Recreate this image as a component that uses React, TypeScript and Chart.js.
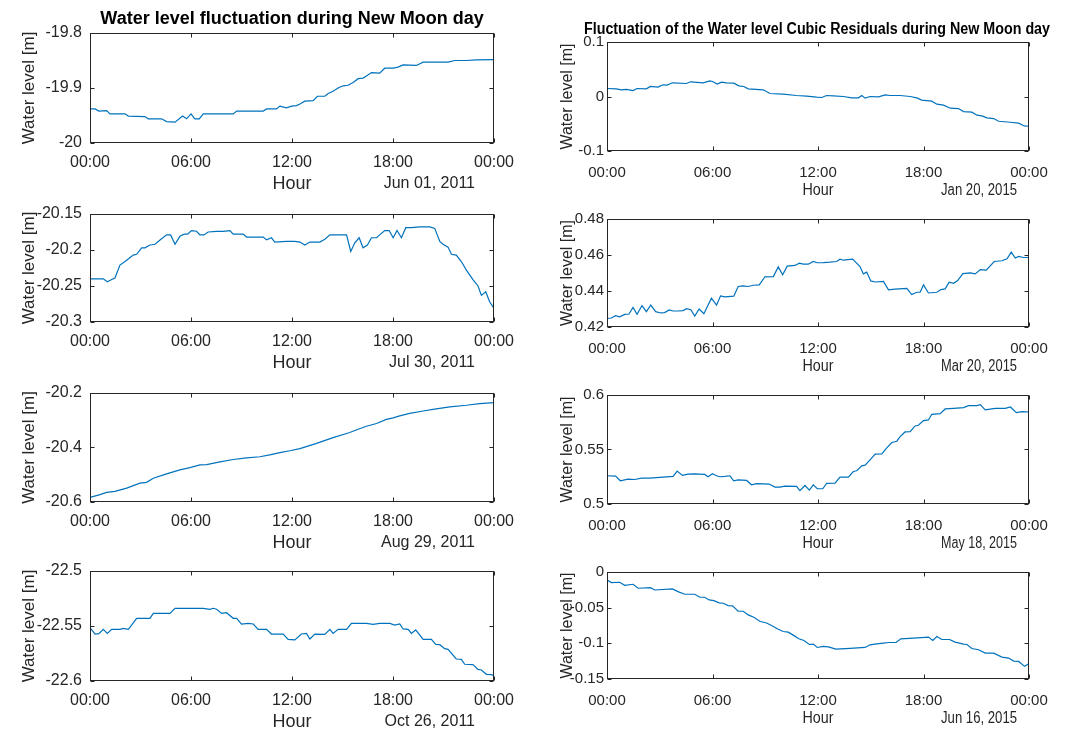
import React, { useEffect, useRef } from 'react';
import { Chart, registerables } from 'chart.js';

Chart.register(...registerables);

// ---------------- DATA ----------------
const hourTicks = [0, 6, 12, 18, 24];
const hourTickLabels = ['00:00', '06:00', '12:00', '18:00', '00:00'];

const titleLeft = 'Water level fluctuation during New Moon day';
const titleRight = 'Fluctuation of the Water level Cubic Residuals during New Moon day';
const yAxisTitle = 'Water level [m]';
const xAxisTitle = 'Hour';

// [hour, water level]
const jun01_2011: [number, number][] = [
  [0, -19.938], [0.3, -19.938], [0.53, -19.942], [0.99, -19.941], [1.19, -19.947], [2.08, -19.947],
  [2.28, -19.951], [3.26, -19.952], [3.46, -19.956], [4.25, -19.956], [4.55, -19.961], [5.05, -19.962],
  [5.5, -19.951], [5.74, -19.956], [6.0, -19.947], [6.23, -19.956], [6.49, -19.956], [6.73, -19.947],
  [8.51, -19.947], [8.71, -19.942], [10.29, -19.942], [10.49, -19.938], [11.08, -19.938], [11.28, -19.933],
  [11.67, -19.936], [11.97, -19.933], [12.27, -19.932], [12.47, -19.929], [12.76, -19.924], [13.26, -19.923],
  [13.51, -19.915], [13.95, -19.915], [14.15, -19.91], [14.44, -19.906], [14.74, -19.9], [15.04, -19.896],
  [15.33, -19.895], [15.63, -19.89], [15.93, -19.883], [16.22, -19.882], [16.42, -19.878], [16.72, -19.872],
  [17.21, -19.873], [17.51, -19.864], [18.01, -19.864], [18.3, -19.862], [18.6, -19.858], [19.39, -19.859],
  [19.79, -19.853], [20.38, -19.853], [21.27, -19.853], [21.67, -19.85], [22.36, -19.85], [22.95, -19.849],
  [24, -19.8485],
];

const jul30_2011: [number, number][] = [
  [0, -20.24], [0.79, -20.24], [1.03, -20.244], [1.29, -20.241], [1.48, -20.239], [1.78, -20.221],
  [2.08, -20.216], [2.57, -20.207], [2.77, -20.206], [3.07, -20.197], [3.26, -20.197], [3.56, -20.193],
  [3.86, -20.192], [4.16, -20.186], [4.55, -20.179], [4.79, -20.179], [5.05, -20.192], [5.34, -20.181],
  [5.6, -20.178], [5.8, -20.178], [6.03, -20.173], [6.33, -20.174], [6.53, -20.179], [6.77, -20.179],
  [7.02, -20.175], [7.52, -20.174], [7.91, -20.174], [8.31, -20.173], [8.51, -20.178], [9.1, -20.178],
  [9.3, -20.182], [10.29, -20.182], [10.49, -20.186], [10.78, -20.183], [10.98, -20.189], [11.67, -20.188],
  [12.17, -20.188], [12.47, -20.189], [12.76, -20.193], [13.06, -20.189], [13.65, -20.189], [13.95, -20.185],
  [14.25, -20.179], [15.24, -20.179], [15.49, -20.202], [15.73, -20.19], [15.99, -20.183], [16.22, -20.197],
  [16.48, -20.193], [16.72, -20.183], [17.02, -20.183], [17.21, -20.179], [17.51, -20.173], [17.77, -20.173],
  [18.01, -20.183], [18.24, -20.173], [18.5, -20.183], [18.76, -20.169], [19.09, -20.169], [19.59, -20.168],
  [20.18, -20.168], [20.48, -20.17], [20.78, -20.188], [20.97, -20.192], [21.27, -20.196], [21.47, -20.206],
  [21.76, -20.207], [22.06, -20.216], [22.36, -20.228], [22.75, -20.241], [23.05, -20.25], [23.25, -20.263],
  [23.51, -20.258], [23.74, -20.272], [24, -20.281],
];

const aug29_2011: [number, number][] = [
  [0, -20.583], [0.59, -20.573], [0.99, -20.565], [1.48, -20.561], [2.18, -20.549], [2.97, -20.531],
  [3.36, -20.528], [3.76, -20.513], [4.55, -20.497], [5.34, -20.482], [5.94, -20.474], [6.53, -20.464],
  [6.93, -20.463], [7.72, -20.453], [8.51, -20.444], [9.3, -20.438], [10.09, -20.434], [10.68, -20.427],
  [11.28, -20.419], [11.87, -20.412], [12.47, -20.404], [13.46, -20.385], [14.44, -20.364], [15.43, -20.345],
  [15.93, -20.333], [16.42, -20.322], [17.02, -20.312], [17.61, -20.297], [18.01, -20.291], [18.4, -20.284],
  [18.99, -20.275], [19.79, -20.266], [20.38, -20.26], [21.37, -20.251], [22.36, -20.245], [23.15, -20.239],
  [24, -20.235],
];

const oct26_2011: [number, number][] = [
  [0, -22.5515], [0.3, -22.5573], [0.53, -22.557], [0.79, -22.553], [1.03, -22.5567], [1.29, -22.553],
  [1.78, -22.553], [1.98, -22.5521], [2.28, -22.553], [2.77, -22.543], [3.56, -22.543], [3.76, -22.5385],
  [4.75, -22.5385], [5.05, -22.5339], [6.73, -22.5339], [7.12, -22.5348], [7.32, -22.5339], [7.52, -22.5348],
  [7.82, -22.5385], [8.11, -22.5379], [8.51, -22.543], [8.71, -22.543], [9.0, -22.5482], [9.4, -22.5476],
  [9.7, -22.5482], [9.99, -22.553], [10.49, -22.553], [10.78, -22.5573], [11.48, -22.5573], [11.77, -22.5621],
  [12.17, -22.5627], [12.56, -22.5573], [12.86, -22.5567], [13.06, -22.5618], [13.36, -22.5573], [13.95, -22.5576],
  [14.25, -22.553], [14.44, -22.5567], [14.74, -22.553], [15.24, -22.553], [15.53, -22.5476], [16.42, -22.5476],
  [16.82, -22.5485], [17.21, -22.5476], [17.81, -22.5476], [18.1, -22.5491], [18.4, -22.5482], [18.6, -22.5527],
  [18.9, -22.553], [19.09, -22.5567], [19.35, -22.5536], [19.79, -22.5621], [20.28, -22.5621], [20.54, -22.5667],
  [20.78, -22.567], [21.07, -22.5706], [21.27, -22.5712], [21.76, -22.58], [22.06, -22.5803], [22.26, -22.5848],
  [22.75, -22.5851], [23.05, -22.5894], [23.25, -22.59], [23.55, -22.5939], [23.84, -22.5942], [24, -22.5951],
];

const jan20_2015: [number, number][] = [
  [0, 0.0147], [0.53, 0.0141], [0.82, 0.0123], [1.1, 0.0129], [1.48, 0.011], [1.71, 0.0147], [2.24, 0.0141],
  [2.47, 0.0184], [2.9, 0.0172], [3.19, 0.0215], [3.42, 0.0208], [3.72, 0.0251], [4.52, 0.0239], [4.75, 0.027],
  [5.47, 0.0251], [5.85, 0.0288], [6.0, 0.0276], [6.27, 0.0227], [6.51, 0.0264], [6.8, 0.0251], [7.21, 0.0245],
  [7.5, 0.0196], [7.78, 0.0184], [8.03, 0.0141], [8.88, 0.0123], [9.27, 0.0055], [10.02, 0.0043], [10.78, 0.0018],
  [11.35, 0.0006], [11.92, -0.0012], [12.21, -0.0018], [12.49, 0.0018], [12.87, 0.0012], [13.44, 0],
  [13.92, -0.0025], [14.3, -0.0025], [14.49, 0.0018], [14.68, -0.0031], [14.96, 0], [15.44, -0.0006],
  [15.82, 0.0031], [16.1, 0.0018], [16.67, 0.0018], [17.24, 0], [17.62, -0.0025], [17.9, -0.0067],
  [18.47, -0.0086], [18.76, -0.0141], [19.14, -0.0159], [19.52, -0.0215], [19.99, -0.0221], [20.28, -0.0276],
  [20.75, -0.0288], [21.04, -0.0343], [21.32, -0.0356], [21.61, -0.0392], [21.99, -0.0405], [22.27, -0.0454],
  [22.94, -0.0472], [23.41, -0.049], [23.73, -0.054], [24, -0.0546],
];

const mar20_2015: [number, number][] = [
  [0, 0.4248], [0.25, 0.425], [0.49, 0.4263], [0.72, 0.4257], [1.01, 0.427], [1.25, 0.4272], [1.48, 0.4309],
  [1.71, 0.427], [1.99, 0.4319], [2.24, 0.4285], [2.49, 0.4322], [2.77, 0.4285], [3.04, 0.4278], [3.28, 0.428],
  [3.53, 0.4295], [3.76, 0.4289], [4.04, 0.4289], [4.33, 0.4291], [4.52, 0.4302], [4.77, 0.4296], [4.99, 0.4261],
  [5.24, 0.43], [5.51, 0.4274], [5.94, 0.436], [6.23, 0.4322], [6.46, 0.4373], [6.7, 0.4367], [7.21, 0.4371],
  [7.46, 0.4425], [7.75, 0.4428], [8.03, 0.4425], [8.32, 0.4432], [8.66, 0.4434], [8.98, 0.4479], [9.46, 0.448],
  [9.74, 0.4534], [9.99, 0.449], [10.25, 0.4538], [10.69, 0.4542], [10.94, 0.4555], [11.16, 0.4549],
  [11.45, 0.4549], [11.73, 0.4564], [11.96, 0.4557], [12.3, 0.4558], [12.68, 0.456], [13.06, 0.4564],
  [13.25, 0.4577], [13.44, 0.4571], [13.97, 0.4577], [14.39, 0.4536], [14.58, 0.4495], [14.77, 0.4505],
  [15.0, 0.4456], [15.25, 0.445], [15.72, 0.4453], [16.01, 0.4406], [16.39, 0.441], [17.05, 0.4415],
  [17.33, 0.438], [17.62, 0.4393], [17.81, 0.4393], [18.0, 0.4434], [18.28, 0.4389], [18.76, 0.4393],
  [18.99, 0.4408], [19.23, 0.4412], [19.46, 0.4449], [19.71, 0.4443], [19.94, 0.4458], [20.24, 0.4497],
  [20.66, 0.4501], [20.94, 0.4495], [21.23, 0.4519], [21.57, 0.4516], [22.02, 0.4564], [22.46, 0.4568],
  [22.75, 0.4579], [22.99, 0.4616], [23.22, 0.4583], [23.41, 0.4592], [23.69, 0.4586], [24, 0.4586],
];

const may18_2015: [number, number][] = [
  [0, 0.5259], [0.49, 0.5256], [0.76, 0.5213], [1.2, 0.5228], [1.58, 0.5225], [1.96, 0.5237], [2.43, 0.5237],
  [3.76, 0.5253], [3.99, 0.5302], [4.29, 0.5262], [4.61, 0.5274], [4.99, 0.5277], [5.56, 0.5271], [5.75, 0.525],
  [6.0, 0.5277], [6.23, 0.5259], [6.42, 0.525], [6.7, 0.5253], [6.99, 0.5259], [7.21, 0.5213], [7.46, 0.5222],
  [7.94, 0.5216], [8.22, 0.5176], [8.51, 0.5186], [9.23, 0.5183], [9.55, 0.5155], [9.83, 0.5155], [10.12, 0.5164],
  [10.78, 0.5161], [10.97, 0.5122], [11.26, 0.517], [11.51, 0.5128], [11.73, 0.5176], [11.96, 0.514],
  [12.27, 0.514], [12.49, 0.5189], [12.97, 0.5192], [13.25, 0.5247], [13.73, 0.5247], [14.01, 0.5298],
  [14.2, 0.5305], [14.49, 0.535], [14.68, 0.5356], [14.96, 0.5405], [15.25, 0.5457], [15.63, 0.546],
  [15.91, 0.5515], [16.2, 0.5564], [16.48, 0.5576], [16.67, 0.5619], [16.95, 0.5661], [17.24, 0.5664],
  [17.52, 0.5716], [17.71, 0.5722], [18.0, 0.5765], [18.28, 0.5771], [18.47, 0.5823], [18.95, 0.5829],
  [19.23, 0.5872], [19.71, 0.5878], [20.28, 0.5884], [20.56, 0.5902], [21.04, 0.5902], [21.23, 0.5912],
  [21.51, 0.5863], [22.08, 0.5878], [22.65, 0.5878], [22.94, 0.589], [23.28, 0.5838], [23.61, 0.5848],
  [24, 0.5844],
];

const jun16_2015: [number, number][] = [
  [0, -0.0112], [0.25, -0.0149], [0.72, -0.0144], [1.01, -0.0186], [1.48, -0.0172], [1.77, -0.0228],
  [2.47, -0.0219], [2.72, -0.0252], [3.72, -0.0238], [4.04, -0.0275], [4.42, -0.0312], [4.99, -0.0312],
  [5.28, -0.0354], [5.56, -0.0354], [5.81, -0.0391], [6.08, -0.0401], [6.38, -0.0433], [6.61, -0.0438],
  [6.89, -0.0471], [7.14, -0.0475], [7.46, -0.055], [7.75, -0.055], [8.03, -0.0601], [8.35, -0.0634],
  [8.69, -0.069], [9.11, -0.0718], [9.46, -0.0764], [9.74, -0.0802], [10.02, -0.0834], [10.31, -0.0843],
  [10.59, -0.0885], [10.88, -0.0932], [11.2, -0.096], [11.51, -0.1016], [11.73, -0.1011], [11.96, -0.1058],
  [12.3, -0.1044], [12.59, -0.1049], [13.02, -0.1081], [13.82, -0.1072], [14.68, -0.1058], [14.96, -0.1021],
  [15.34, -0.1007], [15.72, -0.0997], [16.01, -0.0988], [16.44, -0.0988], [16.71, -0.0937], [17.43, -0.0927],
  [18.28, -0.0913], [18.53, -0.096], [18.76, -0.0904], [19.04, -0.0946], [19.48, -0.0946], [19.8, -0.0983],
  [20.28, -0.1011], [20.47, -0.1016], [20.75, -0.1072], [21.13, -0.109], [21.51, -0.1137], [21.99, -0.1137],
  [22.46, -0.1193], [22.84, -0.1207], [23.13, -0.1249], [23.41, -0.1254], [23.75, -0.1323], [24, -0.1282],
];

const yTicksJun01 = [-20, -19.9, -19.8];
const yTicksJul30 = [-20.3, -20.25, -20.2, -20.15];
const yTicksAug29 = [-20.6, -20.4, -20.2];
const yTicksOct26 = [-22.6, -22.55, -22.5];
const yTicksJan20 = [-0.1, 0, 0.1];
const yTicksMar20 = [0.42, 0.44, 0.46, 0.48];
const yTicksMay18 = [0.5, 0.55, 0.6];
const yTicksJun16 = [-0.15, -0.1, -0.05, 0];

// ---------------- LAYOUT / STYLE ----------------
const FONT = "'Liberation Sans', Arial, Helvetica, sans-serif";
const INK = '#262626';
const LINE = '#0072BD';

type Col = 'L' | 'R';
interface PanelDef {
  series: [number, number][];
  yTicks: number[];
  date: string;
  title?: string;
  col: Col;
  plot: { l: number; t: number; r: number; b: number };
}

const panels: PanelDef[] = [
  { series: jun01_2011, yTicks: yTicksJun01, date: 'Jun 01, 2011', title: titleLeft, col: 'L', plot: { l: 90, t: 33, r: 494, b: 143 } },
  { series: jul30_2011, yTicks: yTicksJul30, date: 'Jul 30, 2011', col: 'L', plot: { l: 90, t: 214, r: 494, b: 322 } },
  { series: aug29_2011, yTicks: yTicksAug29, date: 'Aug 29, 2011', col: 'L', plot: { l: 90, t: 393, r: 494, b: 502 } },
  { series: oct26_2011, yTicks: yTicksOct26, date: 'Oct 26, 2011', col: 'L', plot: { l: 90, t: 571, r: 494, b: 681 } },
  { series: jan20_2015, yTicks: yTicksJan20, date: 'Jan 20, 2015', title: titleRight, col: 'R', plot: { l: 607, t: 42, r: 1029, b: 151 } },
  { series: mar20_2015, yTicks: yTicksMar20, date: 'Mar 20, 2015', col: 'R', plot: { l: 607, t: 219, r: 1029, b: 327 } },
  { series: may18_2015, yTicks: yTicksMay18, date: 'May 18, 2015', col: 'R', plot: { l: 607, t: 395, r: 1029, b: 504 } },
  { series: jun16_2015, yTicks: yTicksJun16, date: 'Jun 16, 2015', col: 'R', plot: { l: 607, t: 572, r: 1029, b: 679 } },
];

const colStyle = {
  L: {
    cLeft: 0, cWidth: 530, tickSize: 16, xPad: 10, yPad: 8,
    yTitleX: 29, yTitleSize: 17, yTitleMax: 130,
    hourSize: 18, hourMax: 60, hourDy: 46,
    dateSize: 16, dateMax: 110, dateInset: 19, dateDy: 45,
    titleSize: 18, titleMax: 396, titleDy: -9, titleDx: 0,
  },
  R: {
    cLeft: 530, cWidth: 537, tickSize: 15, xPad: 13, yPad: 3,
    yTitleX: 38, yTitleSize: 16, yTitleMax: 112,
    hourSize: 16, hourMax: 31, hourDy: 44,
    dateSize: 16, dateMax: 76, dateInset: 12, dateDy: 44,
    titleSize: 16, titleMax: 466, titleDy: -8, titleDx: -1,
  },
};

const fmt = (v: number) => String(Number(v.toFixed(4)));

function PanelChart({ p }: { p: PanelDef }) {
  const ref = useRef<HTMLCanvasElement>(null);
  const s = colStyle[p.col];
  const cTop = Math.max(0, p.plot.t - 42);
  const cBottom = Math.min(729, p.plot.b + 52);
  const cHeight = cBottom - cTop;

  useEffect(() => {
    const decor = {
      id: 'decor',
      afterDraw(chart: any) {
        const ctx = chart.ctx as CanvasRenderingContext2D;
        const a = chart.chartArea;
        ctx.save();
        ctx.strokeStyle = INK;
        ctx.lineWidth = 1;
        const L = Math.round(a.left) + 0.5;
        const R = Math.round(a.right) - 0.5;
        const T = Math.round(a.top) + 0.5;
        const B = Math.round(a.bottom) - 0.5;
        ctx.strokeRect(L, T, R - L, B - T);
        const tl = 4;
        ctx.beginPath();
        const xs = chart.scales.x;
        xs.ticks.forEach((t: any) => {
          const px = Math.round(xs.getPixelForValue(t.value)) + 0.5;
          ctx.moveTo(px, B); ctx.lineTo(px, B - tl);
          ctx.moveTo(px, T); ctx.lineTo(px, T + tl);
        });
        const ys = chart.scales.y;
        ys.ticks.forEach((t: any) => {
          const py = Math.round(ys.getPixelForValue(t.value)) + 0.5;
          ctx.moveTo(L, py); ctx.lineTo(L + tl, py);
          ctx.moveTo(R, py); ctx.lineTo(R - tl, py);
        });
        ctx.stroke();

        const cx = (a.left + a.right) / 2;
        const cy = (a.top + a.bottom) / 2;
        ctx.fillStyle = INK;
        // y-axis title
        ctx.save();
        ctx.translate(s.yTitleX, cy);
        ctx.rotate(-Math.PI / 2);
        ctx.textAlign = 'center';
        ctx.textBaseline = 'middle';
        ctx.font = `${s.yTitleSize}px ${FONT}`;
        ctx.fillText(yAxisTitle, 0, 0, s.yTitleMax);
        ctx.restore();
        // x-axis title
        ctx.textBaseline = 'alphabetic';
        ctx.textAlign = 'center';
        ctx.font = `${s.hourSize}px ${FONT}`;
        ctx.fillText(xAxisTitle, cx, a.bottom + s.hourDy, s.hourMax);
        // date
        ctx.textAlign = 'right';
        ctx.font = `${s.dateSize}px ${FONT}`;
        ctx.fillText(p.date, a.right - s.dateInset, a.bottom + s.dateDy, s.dateMax);
        // title
        if (p.title) {
          ctx.fillStyle = '#000';
          ctx.textAlign = 'center';
          ctx.font = `bold ${s.titleSize}px ${FONT}`;
          ctx.fillText(p.title, cx + s.titleDx, a.top + s.titleDy, s.titleMax);
        }
        ctx.restore();
      },
    };

    const chart = new Chart(ref.current!, {
      type: 'line',
      data: {
        datasets: [
          {
            data: p.series.map(([h, v]) => ({ x: h, y: v })),
            borderColor: LINE,
            borderWidth: 1.2,
            pointRadius: 0,
            tension: 0,
            fill: false,
          },
        ],
      },
      options: {
        animation: false,
        responsive: false,
        events: [],
        layout: {
          padding: { top: p.plot.t - cTop, right: s.cLeft + s.cWidth - p.plot.r, left: 0, bottom: 0 },
        },
        plugins: { legend: { display: false }, tooltip: { enabled: false }, title: { display: false } },
        scales: {
          x: {
            type: 'linear',
            min: 0,
            max: 24,
            grid: { display: false, drawTicks: false },
            border: { display: false },
            afterBuildTicks: (sc: any) => { sc.ticks = hourTicks.map((v) => ({ value: v })); },
            afterFit: (sc: any) => { sc.height = cBottom - p.plot.b; },
            ticks: {
              autoSkip: false,
              maxRotation: 0,
              padding: s.xPad,
              color: INK,
              font: { family: FONT, size: s.tickSize },
              callback: (v: any) => hourTickLabels[hourTicks.indexOf(Number(v))] ?? '',
            },
          },
          y: {
            type: 'linear',
            min: p.yTicks[0],
            max: p.yTicks[p.yTicks.length - 1],
            grid: { display: false, drawTicks: false },
            border: { display: false },
            afterBuildTicks: (sc: any) => { sc.ticks = p.yTicks.map((v) => ({ value: v })); },
            afterFit: (sc: any) => { sc.width = p.plot.l - s.cLeft; },
            ticks: {
              autoSkip: false,
              padding: s.yPad,
              color: INK,
              font: { family: FONT, size: s.tickSize },
              callback: (v: any) => fmt(Number(v)),
            },
          },
        },
      },
      plugins: [decor],
    } as any);
    return () => chart.destroy();
  }, []);

  return (
    <canvas
      ref={ref}
      width={s.cWidth}
      height={cHeight}
      style={{ position: 'absolute', left: s.cLeft, top: cTop, width: s.cWidth, height: cHeight }}
    />
  );
}

export default function App() {
  return (
    <div style={{ position: 'absolute', left: 0, top: 0, width: 1067, height: 729, background: '#fff', overflow: 'hidden' }}>
      {panels.map((p, i) => (
        <PanelChart key={i} p={p} />
      ))}
    </div>
  );
}
